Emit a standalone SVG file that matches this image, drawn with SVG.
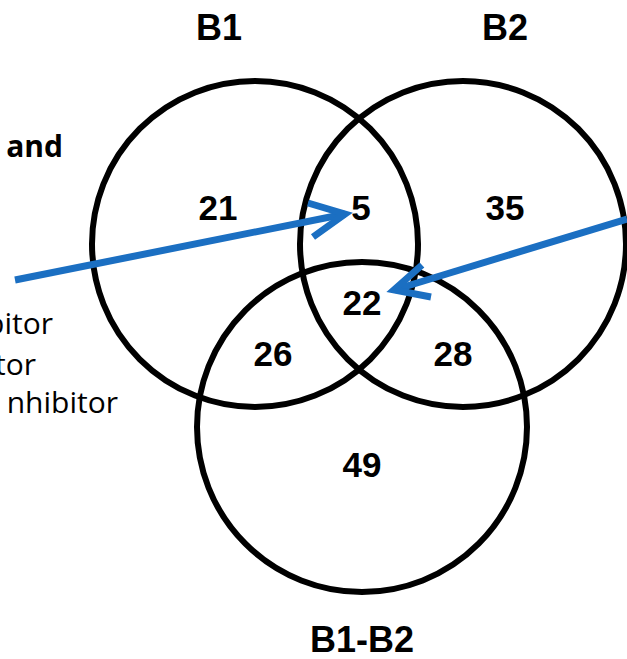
<svg xmlns="http://www.w3.org/2000/svg" width="627" height="659" viewBox="0 0 627 659">
<style>
.c{fill:none;stroke:#000;stroke-width:6}
.lbl{font-family:"Liberation Sans",Arial,sans-serif;font-weight:bold;font-size:36px;text-anchor:middle;fill:#000}
.num{font-family:"Liberation Sans",Arial,sans-serif;font-weight:bold;font-size:35px;text-anchor:middle;fill:#000}
.side{font-family:"Open Sans",sans-serif;font-size:30px;fill:#000}
.arr{fill:none;stroke:#1b6fc2;stroke-width:7;stroke-linecap:butt;stroke-linejoin:miter}
</style>
<rect width="627" height="659" fill="#fff"/>
<g id="set-B1"><circle class="c" cx="255" cy="244" r="163"/><text class="lbl" x="219" y="40">B1</text></g>
<g id="set-B2"><circle class="c" cx="463" cy="244" r="163"/><text class="lbl" x="505" y="40">B2</text></g>
<g id="set-B1-B2"><circle class="c" cx="362" cy="427" r="165"/><text class="lbl" x="362" y="652">B1-B2</text></g>
<g id="counts">
<text class="num" x="218" y="220">21</text>
<text class="num" x="361" y="220">5</text>
<text class="num" x="505" y="220">35</text>
<text class="num" x="362" y="315">22</text>
<text class="num" x="273" y="366">26</text>
<text class="num" x="453" y="366">28</text>
<text class="num" x="362" y="477">49</text>
</g>
<g id="legend">
<text class="side" x="63" y="157" text-anchor="end" font-weight="bold" font-size="28">and</text>
<text class="side" x="53" y="334" text-anchor="end">bitor</text>
<text class="side" x="36" y="375" text-anchor="end">tor</text>
<text class="side" x="118" y="413" text-anchor="end">nhibitor</text>
</g>
<g id="connectors">
<path class="arr" d="M15 280 L345 214"/>
<path class="arr" d="M308 203 L345 214 L313 237"/>
<path class="arr" d="M627 219 L394 290"/>
<path class="arr" d="M422 265 L394 290 L431 297"/>
</g>
</svg>
